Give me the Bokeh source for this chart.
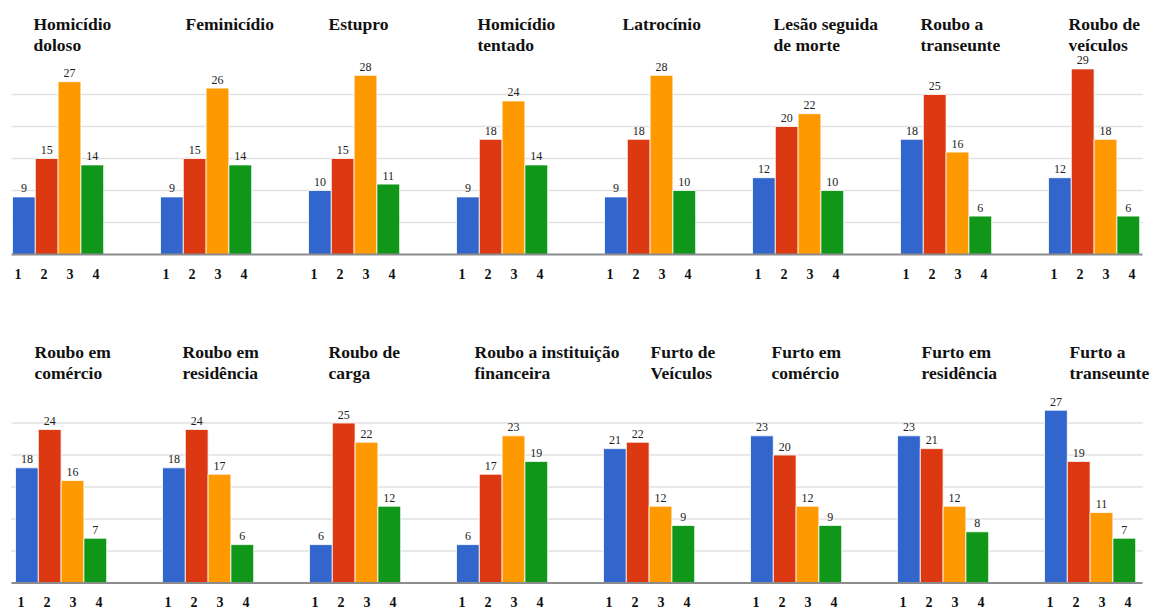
from bokeh.plotting import figure
from bokeh.layouts import column
from bokeh.models import ColumnDataSource
from bokeh.core.properties import value
from bokeh.embed import file_html
from bokeh.resources import INLINE

# Crime categories (two rows of eight panels)
categories = [
    "Homicídio\ndoloso", "Feminicídio", "Estupro", "Homicídio\ntentado",
    "Latrocínio", "Lesão seguida\nde morte", "Roubo a\ntranseunte", "Roubo de\nveículos",
    "Roubo em\ncomércio", "Roubo em\nresidência", "Roubo de\ncarga", "Roubo a instituição\nfinanceira",
    "Furto de\nVeículos", "Furto em\ncomércio", "Furto em\nresidência", "Furto a\ntranseunte",
]

# Counts for answers 1..4 in each category
answer_1 = [9, 9, 10, 9, 9, 12, 18, 12, 18, 18, 6, 6, 21, 23, 23, 27]
answer_2 = [15, 15, 15, 18, 18, 20, 25, 29, 24, 24, 25, 17, 22, 20, 21, 19]
answer_3 = [27, 26, 28, 24, 28, 22, 16, 18, 16, 17, 22, 23, 12, 12, 12, 11]
answer_4 = [14, 14, 11, 14, 10, 10, 6, 6, 7, 6, 12, 19, 9, 9, 8, 7]

tick_labels = ["1", "2", "3", "4"]
grid_values = [5, 10, 15, 20, 25]

# Layout / style settings
COLORS = ["#3366cc", "#dc3912", "#ff9900", "#109618"]
SERIF = value("Liberation Serif")
PX_PER_UNIT = 6.4
BAR_STEP = 22.8
TICK_STEP = 26.0
ROWS = [
    # (panel origin, panel pitch, figure height, baseline in figure px)
    dict(origin=12.0, pitch=148.0, height=305, baseline=254.0),
    dict(origin=15.0, pitch=147.0, height=304, baseline=277.5),
]
TITLE_OFFSETS = [21, 25, 20, 21, 18, 21, 20, 20,
                 19, 20, 19, 18, 47, 21, 24, 25]
TITLE_Y = (35.2, 31.9)
TICK_Y = -3.9
TEXT_SHIFT = -5.5

series = [answer_1, answer_2, answer_3, answer_4]


def build_row(r):
    cfg = ROWS[r]
    idx = range(r * 8, r * 8 + 8)
    y_max = cfg["baseline"] / PX_PER_UNIT
    y_min = -(cfg["height"] - cfg["baseline"]) / PX_PER_UNIT

    p = figure(width=1153, height=cfg["height"], x_range=(0, 1153),
               y_range=(y_min, y_max), output_backend="svg",
               toolbar_location=None, min_border=0,
               x_axis_type=None, y_axis_type=None)
    p.outline_line_color = None
    p.background_fill_color = "white"
    p.border_fill_color = "white"

    # horizontal gridlines across the row
    p.segment(x0=[11] * len(grid_values), x1=[1142] * len(grid_values),
              y0=grid_values, y1=grid_values, line_color="#e2e2e2", line_width=1.6)

    xs, tops, cols, labels, tick_x, tick_t = [], [], [], [], [], []
    t_x, t_l1, t_l2 = [], [], []
    for k, i in enumerate(idx):
        start = cfg["origin"] + k * cfg["pitch"]
        centre = start + 2 * BAR_STEP
        for j in range(4):
            xs.append(start + (j + 0.5) * BAR_STEP)
            tops.append(series[j][i])
            cols.append(COLORS[j])
            labels.append(str(series[j][i]))
            tick_x.append(centre - 1 + (j - 1.5) * TICK_STEP)
            tick_t.append(tick_labels[j])
        lines = categories[i].split("\n")
        t_x.append(start + TITLE_OFFSETS[i])
        t_l1.append(lines[0])
        t_l2.append(lines[1] if len(lines) > 1 else "")

    src = ColumnDataSource(dict(x=xs, top=tops, color=cols, label=labels))
    p.vbar(x="x", top="top", bottom=0, width=BAR_STEP, fill_color="color",
           line_color="white", line_width=1, line_alpha=0.8, source=src)
    p.text(x="x", y="top", text="label", source=src, text_align="center",
           text_baseline="alphabetic", y_offset=-3 + TEXT_SHIFT, text_font=SERIF,
           text_font_size="12px", text_color="#222222")

    # axis baseline
    p.segment(x0=[11], x1=[1142], y0=[0], y1=[0], line_color="#8c8c8c", line_width=2)

    # category numbers under the bars
    p.text(x=tick_x, y=[TICK_Y] * len(tick_x), text=tick_t, text_align="center",
           text_baseline="alphabetic", y_offset=TEXT_SHIFT, text_font=SERIF,
           text_font_style="bold", text_font_size="14px", text_color="#111111")

    # panel titles
    for y, txt in zip(TITLE_Y, (t_l1, t_l2)):
        p.text(x=t_x, y=[y] * len(t_x), text=txt, text_align="left",
               text_baseline="alphabetic", y_offset=TEXT_SHIFT, text_font=SERIF,
               text_font_style="bold", text_font_size="17.5px", text_color="#111111")
    return p


layout = column(build_row(0), build_row(1), spacing=0)
open("out.html", "w").write(file_html(layout, INLINE))
